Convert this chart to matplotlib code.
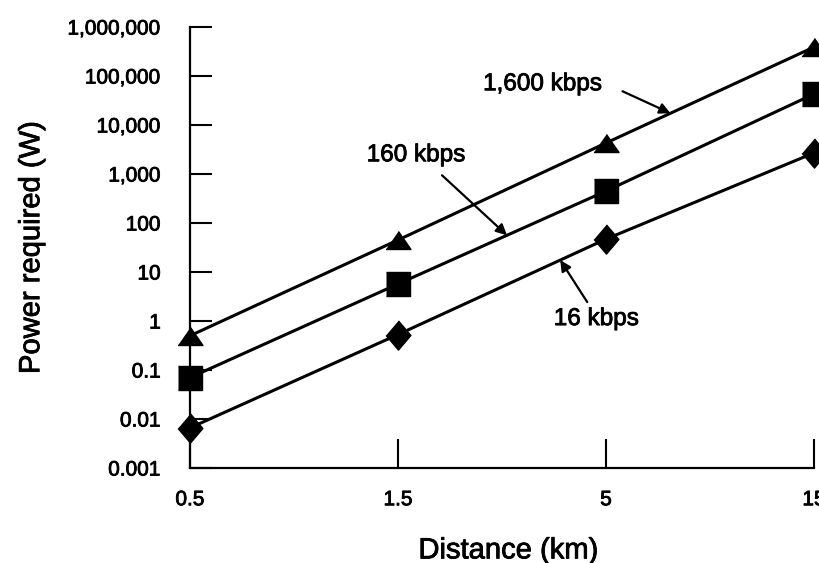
import matplotlib
matplotlib.use('Agg')
import matplotlib.pyplot as plt
import matplotlib.patheffects as pe
import numpy as np

plt.rcParams['font.family'] = ['Liberation Sans', 'DejaVu Sans']

# distance categories (km) and power required (W) for each data rate
distances = ['0.5', '1.5', '5', '15']
power_1600 = [0.5, 45, 4300, 390000]
power_160 = [0.07, 5.7, 450, 43000]
power_16 = [0.0066, 0.53, 47, 2700]

ytick_vals = [0.001, 0.01, 0.1, 1, 10, 100, 1000, 10000, 100000, 1000000]
ytick_labels = ['0.001', '0.01', '0.1', '1', '10', '100', '1,000', '10,000', '100,000', '1,000,000']

x = np.arange(len(distances))

# marker shapes (squashed triangle, square, tall diamond)
tri = [(-1, -0.72), (1, -0.72), (0, 0.72)]
sq = [(-1, -1), (1, -1), (1, 1), (-1, 1)]
dia = [(0, 1), (0.85, 0), (0, -1), (-0.85, 0)]

# scanned print look: slightly heavier glyphs
thick = [pe.withStroke(linewidth=0.6, foreground='black')]

fig = plt.figure(figsize=(8.2, 5.63), dpi=100)
ax = fig.add_axes([0.2317, 0.1687, 0.761, 0.7833])

ax.plot(x, power_1600, color='black', lw=2.2, marker=tri, ms=18, clip_on=False, zorder=3)
ax.plot(x, power_160, color='black', lw=2.2, marker=sq, ms=17, clip_on=False, zorder=3)
ax.plot(x, power_16, color='black', lw=2.2, marker=dia, ms=21, clip_on=False, zorder=3)

ax.set_yscale('log')
ax.set_xlim(0, 3)
ax.set_ylim(1e-3, 1e6)
ax.set_xticks(x)
ax.set_xticklabels(distances)
ax.set_yticks(ytick_vals)
ax.set_yticklabels(ytick_labels)
ax.yaxis.set_minor_locator(matplotlib.ticker.NullLocator())

for s in ['top', 'right']:
    ax.spines[s].set_visible(False)
for s in ['left', 'bottom']:
    ax.spines[s].set_linewidth(1.6)

ax.tick_params(axis='x', direction='in', length=21, width=1.5, pad=16, labelsize=15)
ax.tick_params(axis='y', direction='in', length=16, width=1.5, pad=21, labelsize=15)

ax.set_xlabel('Distance (km)', fontsize=21)
ax.set_ylabel('Power required (W)', fontsize=21)
ax.xaxis.set_label_coords(0.51, -0.155)
ax.yaxis.set_label_coords(-0.232, 0.5)


def on_line(vals, xi):
    # point on a series' segment (log-linear) for arrow tips
    lv = np.log10(vals)
    return 10 ** np.interp(xi, x, lv)


arrow = dict(arrowstyle='-|>', color='black', lw=1.6, mutation_scale=16, shrinkA=0, shrinkB=0)
notes = [
    ('1,600 kbps', power_1600, 2.31, (-48, 22), (-128, 29)),
    ('160 kbps', power_160, 1.524, (-65, 60), (-91, 80)),
    ('16 kbps', power_16, 1.78, (27, -42), (36, -59)),
]
for label, vals, xi, tail, txt in notes:
    tip = (xi, on_line(vals, xi))
    ax.annotate('', xy=tip, xytext=tail, textcoords='offset pixels', arrowprops=arrow)
    ax.annotate(label, xy=tip, xytext=txt, textcoords='offset pixels',
                ha='center', va='center', fontsize=17.5, path_effects=thick)

for t in ax.get_xticklabels() + ax.get_yticklabels():
    t.set_path_effects(thick)
ax.xaxis.label.set_path_effects(thick)
ax.yaxis.label.set_path_effects(thick)

fig.savefig('out.png', dpi=100)
